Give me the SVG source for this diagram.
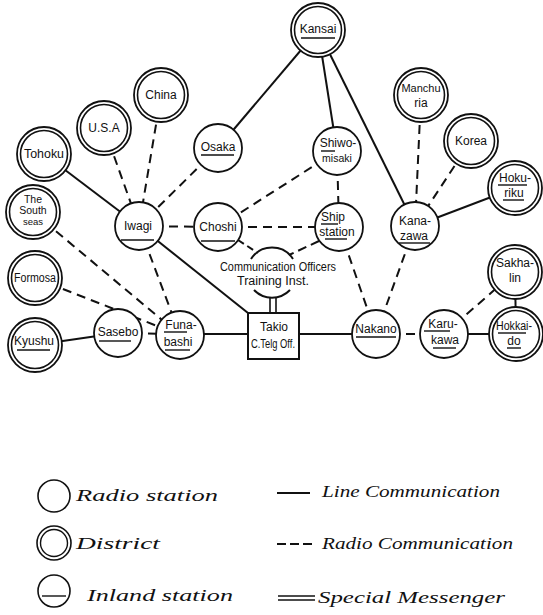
<svg xmlns="http://www.w3.org/2000/svg" width="543" height="615" viewBox="0 0 543 615">
<style>
  .ln{stroke:#111;stroke-width:2;fill:none}
  .ds{stroke:#111;stroke-width:2;fill:none;stroke-dasharray:9 6}
  .c{fill:#fff;stroke:#111;stroke-width:1.8}
  .ci{fill:none;stroke:#111;stroke-width:1.6}
  .t{font-family:"Liberation Sans",Arial,sans-serif;font-size:12px;fill:#111;text-anchor:middle}
  .u{stroke:#111;stroke-width:1.4}
  .lg{font-family:"Liberation Serif","Times New Roman",serif;font-style:italic;font-size:17px;fill:#111}
</style>
<rect width="543" height="615" fill="#fff"/>
<g id="connectors">
  <line class="ln" x1="318" y1="30" x2="218" y2="148"/>
  <line class="ln" x1="318" y1="30" x2="337" y2="151"/>
  <line class="ln" x1="318" y1="30" x2="415" y2="226"/>
  <line class="ln" x1="44" y1="154" x2="139" y2="226"/>
  <line class="ds" x1="104" y1="128" x2="139" y2="226"/>
  <line class="ds" x1="161" y1="95" x2="139" y2="226"/>
  <line class="ds" x1="218" y1="148" x2="139" y2="226"/>
  <line class="ds" x1="337" y1="151" x2="218" y2="227"/>
  <line class="ds" x1="337" y1="151" x2="339" y2="227"/>
  <line class="ds" x1="139" y1="226" x2="218" y2="227"/>
  <line class="ds" x1="218" y1="227" x2="339" y2="227"/>
  <line class="ds" x1="238" y1="240" x2="258" y2="253" style="stroke-dasharray:7 4"/>
  <line class="ds" x1="319" y1="241" x2="289" y2="255" style="stroke-dasharray:9 5"/>
  <line class="ds" x1="339" y1="227" x2="376" y2="334"/>
  <line class="ds" x1="415" y1="226" x2="376" y2="334"/>
  <line class="ds" x1="421" y1="95" x2="415" y2="226"/>
  <line class="ds" x1="471" y1="141" x2="415" y2="226"/>
  <line class="ln" x1="515" y1="188" x2="415" y2="226"/>
  <line class="ln" x1="139" y1="226" x2="248" y2="313"/>
  <line class="ds" x1="139" y1="226" x2="180" y2="335"/>
  <line class="ds" x1="33" y1="212" x2="180" y2="335"/>
  <line class="ds" x1="35" y1="278" x2="180" y2="335"/>
  <line class="ln" x1="35" y1="345" x2="118" y2="333"/>
  <line class="ds" x1="118" y1="333" x2="180" y2="334"/>
  <line class="ln" x1="180" y1="334" x2="248" y2="334"/>
  <line class="ln" x1="299" y1="334" x2="376" y2="334"/>
  <line class="ds" x1="376" y1="334" x2="444" y2="334"/>
  <line class="ln" x1="444" y1="334" x2="516" y2="334"/>
  <line class="ds" x1="444" y1="334" x2="515" y2="272"/>
  <line class="ln" x1="515" y1="272" x2="516" y2="334"/>
  <line class="ln" x1="270" y1="297" x2="270" y2="313" style="stroke-width:1.6"/>
  <line class="ln" x1="276" y1="297" x2="276" y2="313" style="stroke-width:1.6"/>
</g>

<g id="kansai"><circle class="c" cx="318" cy="30" r="27"/><circle class="ci" cx="318" cy="30" r="23.5"/><text class="t" x="318" y="33">Kansai</text><line class="u" x1="301" y1="38" x2="335" y2="38"/></g>
<g id="china"><circle class="c" cx="161" cy="95" r="27"/><circle class="ci" cx="161" cy="95" r="23.5"/><text class="t" x="161" y="99">China</text></g>
<g id="usa"><circle class="c" cx="104" cy="128" r="27"/><circle class="ci" cx="104" cy="128" r="23.5"/><text class="t" x="104" y="132">U.S.A</text></g>
<g id="tohoku"><circle class="c" cx="44" cy="154" r="27"/><circle class="ci" cx="44" cy="154" r="23.5"/><text class="t" x="44" y="158" textLength="40" lengthAdjust="spacingAndGlyphs">Tohoku</text></g>
<g id="osaka"><circle class="c" cx="218" cy="148" r="24"/><text class="t" x="218" y="151">Osaka</text><line class="u" x1="201" y1="155" x2="234" y2="155"/></g>
<g id="shiwomisaki"><circle class="c" cx="337" cy="151" r="24"/><text class="t" x="338" y="147">Shiwo-</text><line class="u" x1="321" y1="151" x2="335" y2="151"/><text class="t" x="337" y="162" style="font-size:10.5px">misaki</text></g>
<g id="manchuria"><circle class="c" cx="421" cy="95" r="27"/><circle class="ci" cx="421" cy="95" r="23.5"/><text class="t" x="421" y="92" style="font-size:11px">Manchu</text><text class="t" x="421" y="107">ria</text></g>
<g id="korea"><circle class="c" cx="471" cy="141" r="27"/><circle class="ci" cx="471" cy="141" r="23.5"/><text class="t" x="471" y="145">Korea</text></g>
<g id="hokuriku"><circle class="c" cx="515" cy="188" r="27"/><circle class="ci" cx="515" cy="188" r="23.5"/><text class="t" x="515" y="182">Hoku-</text><line class="u" x1="498" y1="185" x2="527" y2="185"/><text class="t" x="514" y="197">riku</text><line class="u" x1="503" y1="200" x2="524" y2="200"/></g>
<g id="iwagi"><circle class="c" cx="139" cy="226" r="24"/><text class="t" x="138" y="230">Iwagi</text><line class="u" x1="121" y1="240" x2="154" y2="240"/></g>
<g id="choshi"><circle class="c" cx="218" cy="227" r="24"/><text class="t" x="218" y="231">Choshi</text><line class="u" x1="201" y1="241" x2="235" y2="241"/></g>
<g id="ship-station"><circle class="c" cx="339" cy="227" r="24"/><text class="t" x="333" y="221">Ship</text><line class="u" x1="321" y1="224" x2="338" y2="224"/><text class="t" x="337" y="236">station</text><line class="u" x1="325" y1="239" x2="347" y2="239"/></g>
<g id="kanazawa"><circle class="c" cx="415" cy="226" r="24"/><text class="t" x="415" y="225">Kana-</text><text class="t" x="414" y="240">zawa</text><line class="u" x1="399" y1="243" x2="430" y2="243"/></g>
<g id="south-seas"><circle class="c" cx="33" cy="212" r="27"/><circle class="ci" cx="33" cy="212" r="23.5"/><text class="t" x="33" y="203" style="font-size:10.5px">The</text><text class="t" x="33" y="214" style="font-size:10.5px">South</text><text class="t" x="33" y="225" style="font-size:9.5px">seas</text></g>
<g id="formosa"><circle class="c" cx="35" cy="278" r="27"/><circle class="ci" cx="35" cy="278" r="23.5"/><text class="t" x="35" y="282" textLength="42" lengthAdjust="spacingAndGlyphs">Formosa</text></g>
<g id="kyushu"><circle class="c" cx="35" cy="345" r="27"/><circle class="ci" cx="35" cy="345" r="23.5"/><text class="t" x="34" y="345">Kyushu</text><line class="u" x1="17" y1="350" x2="50" y2="350"/></g>
<g id="sasebo"><circle class="c" cx="118" cy="333" r="24"/><text class="t" x="118" y="336">Sasebo</text><line class="u" x1="99" y1="341" x2="131" y2="341"/></g>
<g id="funabashi"><circle class="c" cx="180" cy="335" r="24"/><text class="t" x="181" y="329">Funa-</text><line class="u" x1="164" y1="332" x2="187" y2="332"/><text class="t" x="178" y="346">bashi</text><line class="u" x1="165" y1="350" x2="190" y2="350"/></g>
<g id="comm-officers">
  <path class="ln" d="M251 259 A25 25 0 0 1 293 259"/>
  <path class="ln" d="M254 290 A25 25 0 0 0 290 290"/>
  <text class="t" x="278" y="271" textLength="116" lengthAdjust="spacingAndGlyphs">Communication Officers</text>
  <text class="t" x="273" y="285" textLength="72" lengthAdjust="spacingAndGlyphs">Training Inst.</text>
</g>
<g id="takio"><rect x="248" y="313" width="51" height="46" fill="#fff" stroke="#111" stroke-width="2"/><text class="t" x="274" y="331">Takio</text><text class="t" x="273" y="348" textLength="44" lengthAdjust="spacingAndGlyphs">C.Telg Off.</text></g>
<g id="nakano"><circle class="c" cx="376" cy="334" r="24"/><text class="t" x="376" y="333">Nakano</text><line class="u" x1="356" y1="337" x2="396" y2="337"/></g>
<g id="karukawa"><circle class="c" cx="444" cy="334" r="24"/><text class="t" x="443" y="328">Karu-</text><line class="u" x1="424" y1="331" x2="450" y2="331"/><text class="t" x="445" y="344">kawa</text><line class="u" x1="433" y1="348" x2="456" y2="348"/></g>
<g id="sakhalin"><circle class="c" cx="515" cy="272" r="27"/><circle class="ci" cx="515" cy="272" r="23.5"/><text class="t" x="515" y="267">Sakha-</text><text class="t" x="515" y="282">lin</text></g>
<g id="hokkaido"><circle class="c" cx="516" cy="334" r="27"/><circle class="ci" cx="516" cy="334" r="23.5"/><text class="t" x="514" y="330" textLength="36" lengthAdjust="spacingAndGlyphs">Hokkai-</text><line class="u" x1="498" y1="333" x2="526" y2="333"/><text class="t" x="514" y="345">do</text><line class="u" x1="507" y1="348" x2="521" y2="348"/></g>

<g id="legend">
  <circle cx="54" cy="496" r="16" fill="none" stroke="#111" stroke-width="1.6"/>
  <text class="lg" x="76" y="501" textLength="142" lengthAdjust="spacingAndGlyphs">Radio station</text>
  <circle cx="54" cy="543" r="17" fill="none" stroke="#111" stroke-width="1.6"/>
  <circle cx="54" cy="543" r="13.5" fill="none" stroke="#111" stroke-width="1.4"/>
  <text class="lg" x="76" y="549" textLength="84" lengthAdjust="spacingAndGlyphs">District</text>
  <circle cx="54" cy="591" r="16" fill="none" stroke="#111" stroke-width="1.6"/>
  <line x1="42" y1="596" x2="66" y2="596" stroke="#111" stroke-width="1.4"/>
  <text class="lg" x="87" y="601" textLength="146" lengthAdjust="spacingAndGlyphs">Inland station</text>
  <line x1="277" y1="493" x2="310" y2="493" stroke="#111" stroke-width="2"/>
  <text class="lg" x="322" y="497" textLength="178" lengthAdjust="spacingAndGlyphs">Line Communication</text>
  <line x1="277" y1="544" x2="315" y2="544" stroke="#111" stroke-width="2" stroke-dasharray="9 4"/>
  <text class="lg" x="322" y="549" textLength="191" lengthAdjust="spacingAndGlyphs">Radio Communication</text>
  <line x1="278" y1="596" x2="315" y2="596" stroke="#111" stroke-width="1.5"/>
  <line x1="278" y1="600" x2="315" y2="600" stroke="#111" stroke-width="1.5"/>
  <text class="lg" x="318" y="603" textLength="187" lengthAdjust="spacingAndGlyphs">Special Messenger</text>
</g>
</svg>
